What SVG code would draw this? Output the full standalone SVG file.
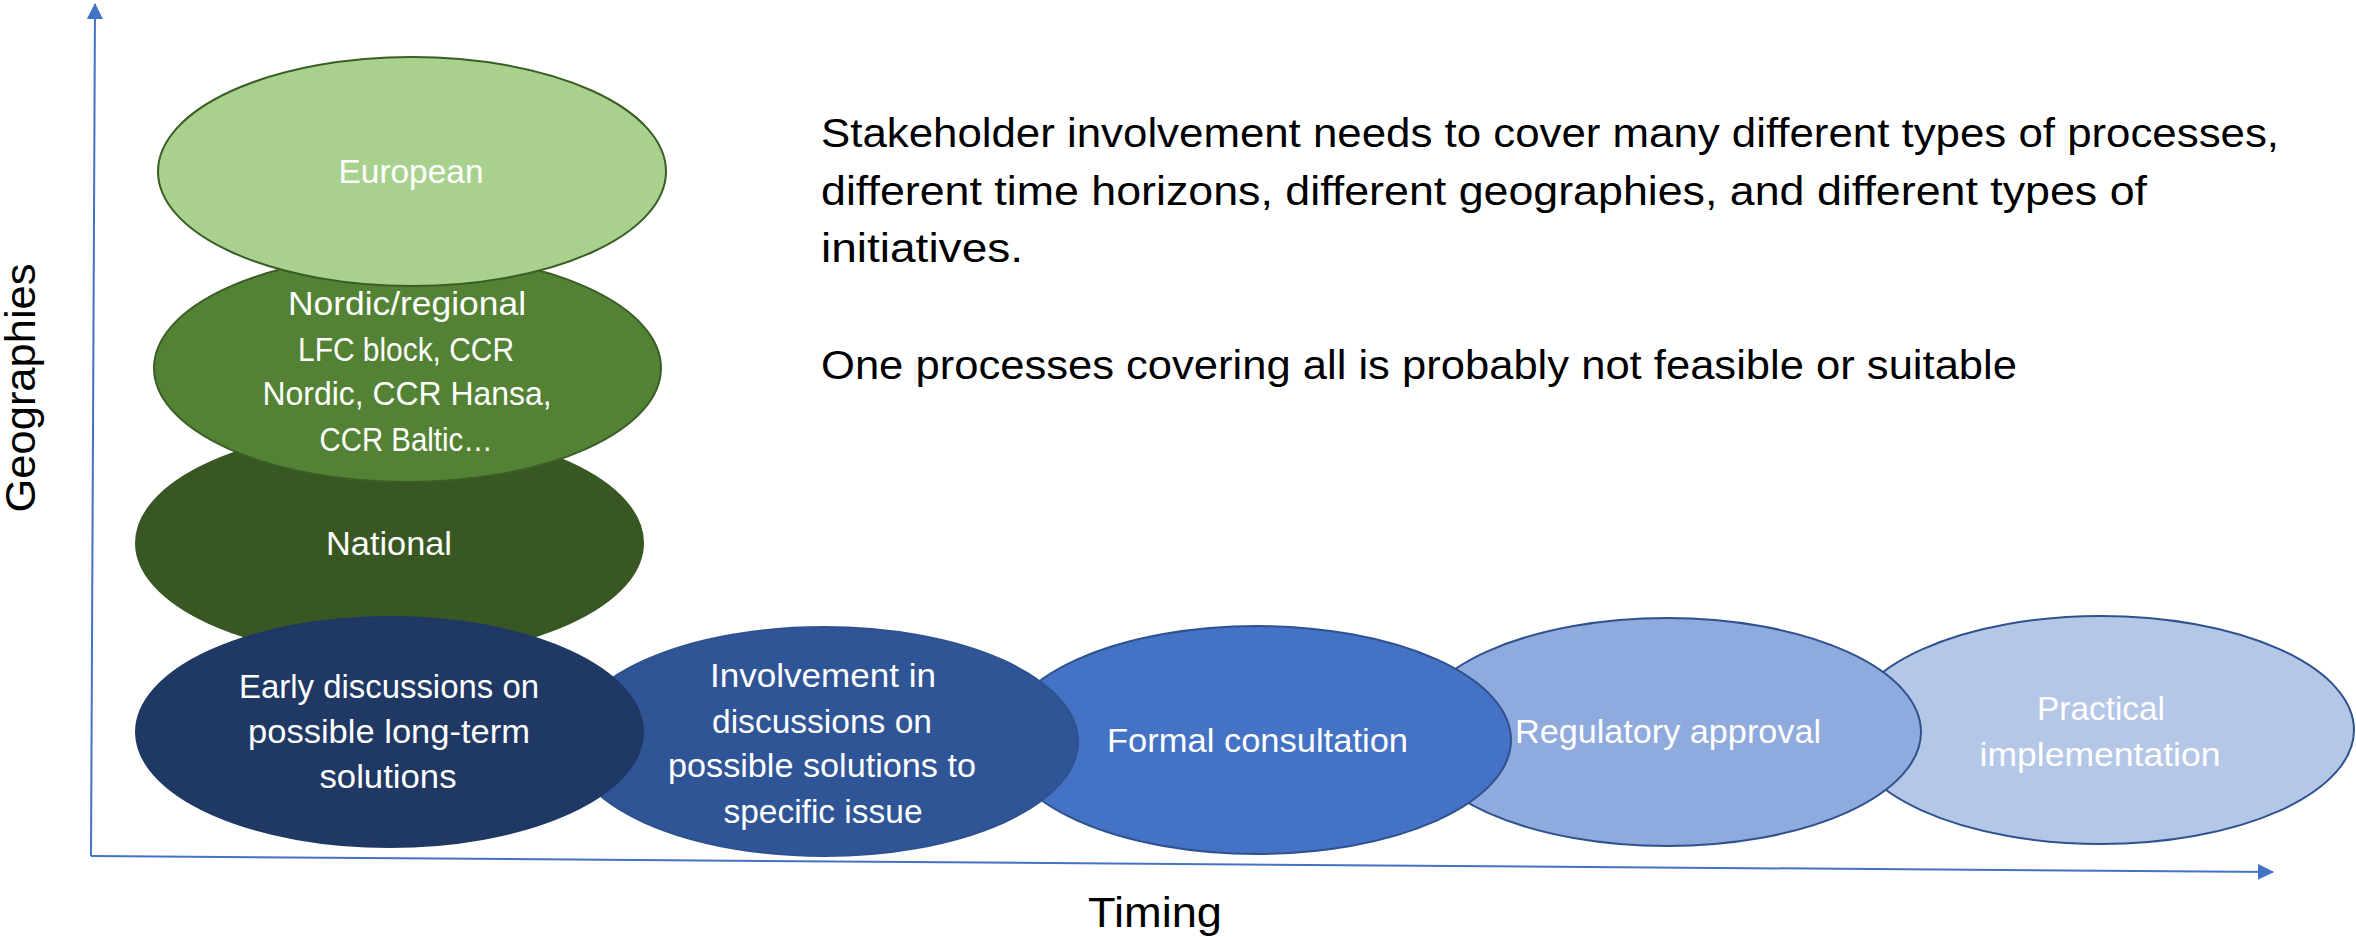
<svg xmlns="http://www.w3.org/2000/svg" width="2356" height="937" viewBox="0 0 2356 937">
<defs>
<style>
.lbl{font-family:"Liberation Sans",Arial,sans-serif;font-size:34px;fill:#ffffff;text-anchor:middle}
.body{font-family:"Liberation Sans",Arial,sans-serif;font-size:40px;fill:#000000}
.axis-t{font-family:"Liberation Sans",Arial,sans-serif;font-size:42px;fill:#000000;text-anchor:middle}
.axis{stroke:#4472C4;stroke-width:2;fill:none}
.ell{stroke-width:2}
</style>
<marker id="arr" markerUnits="userSpaceOnUse" markerWidth="16" markerHeight="16" refX="15" refY="8" orient="auto">
<path d="M0,0 L16,8 L0,16 z" fill="#4472C4"/>
</marker>
</defs>
<rect x="0" y="0" width="2356" height="937" fill="#ffffff"/>

<g id="connectors">
<line class="axis" x1="91" y1="856" x2="95" y2="4" marker-end="url(#arr)"/>
<line class="axis" x1="91" y1="856" x2="2273" y2="872" marker-end="url(#arr)"/>
</g>

<g id="axis-labels">
<text class="axis-t" transform="translate(35,388) rotate(-90)" textLength="249" lengthAdjust="spacingAndGlyphs">Geographies</text>
<text class="axis-t" x="1155" y="927" textLength="134" lengthAdjust="spacingAndGlyphs">Timing</text>
</g>

<g id="node-practical">
<ellipse class="ell" cx="2101" cy="730" rx="253" ry="114" fill="#B4C7E7" stroke="#2F528F"/>
<text class="lbl" x="2101" y="720" textLength="128" lengthAdjust="spacingAndGlyphs">Practical</text>
<text class="lbl" x="2100" y="766" textLength="241" lengthAdjust="spacingAndGlyphs">implementation</text>
</g>

<g id="node-regulatory">
<ellipse class="ell" cx="1667" cy="732" rx="254" ry="114" fill="#8FAADC" stroke="#2F528F"/>
<text class="lbl" x="1668" y="743" textLength="306" lengthAdjust="spacingAndGlyphs">Regulatory approval</text>
</g>

<g id="node-formal">
<ellipse class="ell" cx="1257" cy="740" rx="254" ry="114" fill="#4472C4" stroke="#2F528F"/>
<text class="lbl" x="1257.5" y="752" textLength="301" lengthAdjust="spacingAndGlyphs">Formal consultation</text>
</g>

<g id="node-involvement">
<ellipse class="ell" cx="824" cy="741.5" rx="254" ry="114.5" fill="#2F5597" stroke="#2F528F"/>
<text class="lbl" x="823" y="687" textLength="226" lengthAdjust="spacingAndGlyphs">Involvement in</text>
<text class="lbl" x="822" y="733" textLength="220" lengthAdjust="spacingAndGlyphs">discussions on</text>
<text class="lbl" x="822" y="777" textLength="308" lengthAdjust="spacingAndGlyphs">possible solutions to</text>
<text class="lbl" x="823" y="823" textLength="199" lengthAdjust="spacingAndGlyphs">specific issue</text>
</g>

<g id="node-national">
<ellipse class="ell" cx="389.5" cy="543" rx="253.5" ry="114" fill="#385723" stroke="#385723"/>
<text class="lbl" x="389" y="555" textLength="126" lengthAdjust="spacingAndGlyphs">National</text>
</g>

<g id="node-early">
<ellipse class="ell" cx="389.5" cy="732" rx="253.5" ry="115" fill="#203864" stroke="#203864"/>
<text class="lbl" x="389" y="698" textLength="300" lengthAdjust="spacingAndGlyphs">Early discussions on</text>
<text class="lbl" x="389" y="743" textLength="282" lengthAdjust="spacingAndGlyphs">possible long-term</text>
<text class="lbl" x="388" y="788" textLength="137" lengthAdjust="spacingAndGlyphs">solutions</text>
</g>

<g id="node-nordic">
<ellipse class="ell" cx="407.5" cy="368" rx="253.5" ry="114" fill="#548235" stroke="#3A5E25"/>
<text class="lbl" x="407" y="315" textLength="238" lengthAdjust="spacingAndGlyphs">Nordic/regional</text>
<text class="lbl" x="406" y="361" textLength="216" lengthAdjust="spacingAndGlyphs">LFC block, CCR</text>
<text class="lbl" x="407" y="405" textLength="289" lengthAdjust="spacingAndGlyphs">Nordic, CCR Hansa,</text>
<text class="lbl" x="406" y="451" textLength="173" lengthAdjust="spacingAndGlyphs">CCR Baltic…</text>
</g>

<g id="node-european">
<ellipse class="ell" cx="412" cy="171.5" rx="254" ry="114.5" fill="#A9D18E" stroke="#3A5E25"/>
<text class="lbl" x="411" y="183" textLength="145" lengthAdjust="spacingAndGlyphs">European</text>
</g>

<g id="note">
<text class="body" x="821" y="147" textLength="1458" lengthAdjust="spacingAndGlyphs">Stakeholder involvement needs to cover many different types of processes,</text>
<text class="body" x="821" y="205" textLength="1326" lengthAdjust="spacingAndGlyphs">different time horizons, different geographies, and different types of</text>
<text class="body" x="821" y="262" textLength="202" lengthAdjust="spacingAndGlyphs">initiatives.</text>
<text class="body" x="821" y="379" textLength="1196" lengthAdjust="spacingAndGlyphs">One processes covering all is probably not feasible or suitable</text>
</g>
</svg>
